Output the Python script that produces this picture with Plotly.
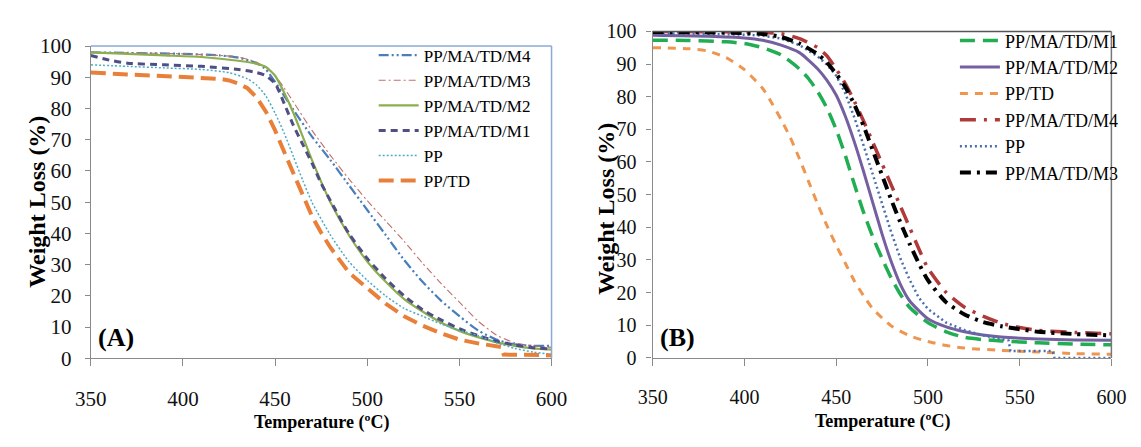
import plotly.graph_objects as go

# ---------------- Panel (A) ----------------
a_m4_t = [350, 370, 400, 420, 430, 440, 445, 450, 455, 460, 470, 480, 490, 500, 510, 520, 530, 540, 550, 560, 570, 580, 590, 600]
a_m4_w = [98, 97.8, 97.5, 97, 96.3, 94.5, 92.5, 88.5, 84, 79.5, 71, 63.5, 55.5, 47.5, 39.5, 31.5, 24.5, 18.5, 13.5, 9, 6, 4.5, 4, 4]

a_m3_t = [350, 400, 430, 440, 445, 450, 455, 460, 470, 480, 490, 500, 510, 520, 530, 540, 550, 560, 570, 580, 590, 600]
a_m3_w = [98, 97.5, 96.5, 94.8, 93, 90.5, 86.5, 82, 73, 65, 57.5, 50.5, 44, 37.5, 30.5, 24, 18, 12, 7.5, 5, 4, 3.5]

a_m2_t = [350, 370, 390, 410, 430, 440, 445, 450, 455, 460, 465, 470, 475, 480, 490, 500, 510, 520, 530, 540, 550, 560, 570, 580, 590, 600]
a_m2_w = [98, 97.5, 97, 96.5, 95.3, 94.3, 93.3, 90.5, 85, 78.5, 71, 63.5, 56.5, 50, 39.5, 31, 24.5, 19, 15, 11.5, 8.8, 6.8, 5.2, 4, 3.2, 2.8]

a_m1_t = [350, 360, 370, 390, 410, 430, 440, 445, 450, 455, 460, 465, 470, 475, 480, 490, 500, 510, 520, 530, 540, 550, 560, 570, 580, 590, 600]
a_m1_w = [97, 95.5, 94.5, 94, 93.5, 92.5, 91.5, 90.5, 88, 81.5, 74.5, 68.5, 62.5, 56, 50.5, 40, 32, 25.5, 20, 15.6, 12.3, 9.5, 7.3, 5.5, 4.3, 3.4, 3]

a_pp_t = [350, 370, 390, 410, 425, 435, 440, 445, 450, 455, 460, 465, 470, 480, 490, 500, 510, 520, 530, 540, 550, 560, 570, 580, 590, 600]
a_pp_w = [94, 93.5, 93, 92.5, 91.5, 89.5, 87.5, 84, 78.5, 72, 64.5, 57, 50, 39.5, 31, 25, 20, 16, 13.5, 11, 9, 7.3, 5, 3.2, 2, 1.3]

a_td_t = [350, 370, 390, 410, 420, 425, 430, 435, 440, 445, 450, 455, 460, 465, 470, 475, 480, 490, 500, 510, 520, 530, 540, 550, 560, 570, 573, 574, 590, 600]
a_td_w = [91.5, 91, 90.5, 90, 89.5, 89, 88, 86.5, 83.5, 79, 73, 66, 59, 52, 45.5, 40.2, 35.5, 27.5, 22.5, 17.5, 13.5, 10.5, 8, 6, 4.8, 3.9, 3.6, 1.2, 1, 1]

# ---------------- Panel (B) ----------------
b_m1_t = [350, 370, 390, 400, 410, 420, 430, 435, 440, 445, 450, 455, 460, 465, 470, 475, 480, 485, 490, 500, 510, 520, 530, 540, 560, 580, 600]
b_m1_w = [97.3, 97.2, 96.8, 96.3, 95, 92.8, 88.5, 85.5, 81.5, 76.5, 70, 62, 53, 44.5, 37, 30.5, 24.5, 19.5, 15.5, 10.8, 8, 6.3, 5.6, 5.2, 4.6, 4.2, 4]

b_m2_t = [350, 380, 400, 410, 420, 430, 440, 445, 450, 455, 460, 465, 470, 475, 480, 485, 490, 500, 510, 520, 530, 540, 560, 580, 600]
b_m2_w = [98.8, 98.5, 98, 97.3, 95.8, 93.5, 88.5, 85, 80.5, 74, 66, 57, 47.5, 38, 29.5, 22.5, 17.5, 12, 9.5, 8, 7, 6.4, 5.8, 5.5, 5.4]

b_td_t = [350, 370, 380, 390, 400, 410, 415, 420, 425, 430, 435, 440, 445, 450, 455, 460, 465, 470, 480, 490, 500, 510, 520, 540, 560, 580, 600]
b_td_w = [95, 94.7, 94, 92, 88.3, 82.5, 78, 73, 67.5, 61, 54, 47, 40.5, 34.5, 29, 23.5, 19, 15, 9.8, 6.8, 5, 3.8, 3, 2.3, 1.8, 1.3, 1.1]

b_m4_t = [350, 400, 420, 430, 440, 445, 450, 455, 460, 465, 470, 475, 480, 485, 490, 495, 500, 510, 520, 530, 540, 550, 560, 580, 600]
b_m4_w = [100, 99.8, 99.3, 97.8, 95, 92.5, 88.5, 84, 78.5, 72.5, 66, 59.5, 53, 46.5, 40, 33.5, 27.5, 20, 15.5, 12.8, 10.6, 9.3, 8.4, 7.8, 7.4]

b_pp_t = [350, 380, 400, 410, 420, 430, 440, 445, 450, 455, 460, 465, 470, 475, 480, 485, 490, 495, 500, 510, 520, 530, 540, 544, 545, 568, 569, 600]
b_pp_w = [99.5, 99.3, 99, 98.7, 97.8, 95.8, 92.3, 89.8, 86.5, 81, 73.5, 65, 56, 47, 38.5, 30.5, 24, 18.5, 15, 10.8, 8.5, 6.9, 5.7, 5.3, 2.1, 2.1, 0, 0]

b_m3_t = [350, 380, 400, 410, 420, 430, 440, 445, 450, 455, 460, 465, 470, 475, 480, 485, 490, 495, 500, 510, 520, 530, 540, 550, 560, 580, 600]
b_m3_w = [99.8, 99.7, 99.5, 99.2, 98.3, 96.3, 93, 90.5, 87, 83, 77.5, 71, 63.5, 56, 48.5, 41.5, 35, 29, 23.8, 17, 13.3, 11, 9.7, 8.8, 8, 7.3, 6.9]

x_ticks = [350, 400, 450, 500, 550, 600]
y_ticks = [0, 10, 20, 30, 40, 50, 60, 70, 80, 90, 100]

SERIF = "Liberation Serif"

fig = go.Figure()

panel_a = [
    ("PP/MA/TD/M4", a_m4_t, a_m4_w, "#4A7EBB", 2.2, "10px,3px,2px,3px,2px,3px", "spline"),
    ("PP/MA/TD/M3", a_m3_t, a_m3_w, "#C0706D", 1.1, "7px,3px,2px,3px", "spline"),
    ("PP/MA/TD/M2", a_m2_t, a_m2_w, "#8CAE4E", 2.2, "solid", "spline"),
    ("PP/MA/TD/M1", a_m1_t, a_m1_w, "#4F4F86", 3, "7px,5px", "spline"),
    ("PP", a_pp_t, a_pp_w, "#4BACC6", 1.5, "2px,2px", "spline"),
    ("PP/TD", a_td_t, a_td_w, "#E8803A", 4, "15px,7px", "linear"),
]
for name, t, w, color, width, dash, shape in panel_a:
    fig.add_trace(go.Scatter(x=t, y=w, mode="lines", name=name, xaxis="x", yaxis="y",
                             legend="legend",
                             line=dict(color=color, width=width, dash=dash, shape=shape,
                                       smoothing=0.6)))

panel_b = [
    ("PP/MA/TD/M1", b_m1_t, b_m1_w, "#21AD52", 3.5, "15px,8px", "spline"),
    ("PP/MA/TD/M2", b_m2_t, b_m2_w, "#7460A0", 3, "solid", "spline"),
    ("PP/TD", b_td_t, b_td_w, "#EE9650", 3, "8px,7px", "spline"),
    ("PP/MA/TD/M4", b_m4_t, b_m4_w, "#B03A3A", 3.5, "16px,8px,3px,8px", "spline"),
    ("PP", b_pp_t, b_pp_w, "#4A6FB0", 2.5, "2px,3px", "linear"),
    ("PP/MA/TD/M3", b_m3_t, b_m3_w, "#000000", 4, "11px,6px,3px,6px", "spline"),
]
for name, t, w, color, width, dash, shape in panel_b:
    fig.add_trace(go.Scatter(x=t, y=w, mode="lines", name=name, xaxis="x2", yaxis="y2",
                             legend="legend2",
                             line=dict(color=color, width=width, dash=dash, shape=shape,
                                       smoothing=0.6)))

W_PX, H_PX = 1141, 447


def px_x(p):
    return p / W_PX


def px_y(p):
    return 1 - p / H_PX


def axis_style(size):
    return dict(showgrid=False, zeroline=False, showline=True, ticks="outside",
                tickcolor="#8a8a8a", linecolor="#8a8a8a", linewidth=1.3,
                tickfont=dict(family=SERIF, size=size, color="#111111"))


fig.update_layout(
    width=W_PX, height=H_PX,
    margin=dict(l=0, r=0, t=0, b=0),
    paper_bgcolor="white", plot_bgcolor="white",
    font=dict(family=SERIF),
    showlegend=True,
    xaxis=dict(domain=[px_x(77), px_x(551)], range=[350, 600], tickvals=x_ticks,
               ticklen=7, ticklabelstandoff=14, anchor="y", **axis_style(21)),
    yaxis=dict(domain=[px_y(366), px_y(36)], range=[0, 100], tickvals=y_ticks,
               ticklen=5, ticklabelstandoff=9, anchor="x", **axis_style(21)),
    xaxis2=dict(domain=[px_x(655), px_x(1127)], range=[350, 600], tickvals=x_ticks,
                ticklen=7, ticklabelstandoff=14, anchor="y2", **axis_style(20)),
    yaxis2=dict(domain=[px_y(365.5), px_y(20.5)], range=[0, 100], tickvals=y_ticks,
                ticklen=5, ticklabelstandoff=6, anchor="x2", **axis_style(20)),
    legend=dict(x=px_x(368), y=px_y(27), xanchor="left", yanchor="top",
                bgcolor="rgba(0,0,0,0)", itemwidth=40, tracegroupgap=0,
                font=dict(family=SERIF, size=17, color="#000000")),
    legend2=dict(x=px_x(966), y=px_y(11), xanchor="left", yanchor="top",
                 bgcolor="rgba(0,0,0,0)", itemwidth=40, tracegroupgap=0,
                 font=dict(family=SERIF, size=18, color="#000000")),
)

# Frame lines on the open sides of each panel
fig.add_shape(type="line", xref="x domain", yref="y domain", x0=0, x1=1, y0=1, y1=1,
              line=dict(color="#8BA9D6", width=1.5))
fig.add_shape(type="line", xref="x domain", yref="y domain", x0=1, x1=1, y0=0, y1=1,
              line=dict(color="#8BA9D6", width=1.5))
fig.add_shape(type="line", xref="x2 domain", yref="y2 domain", x0=0, x1=1, y0=1, y1=1,
              line=dict(color="#555555", width=1.5))
fig.add_shape(type="line", xref="x2 domain", yref="y2 domain", x0=1, x1=1, y0=0, y1=1,
              line=dict(color="#777777", width=1.5))

title_font = dict(family=SERIF, size=18, color="#000000")
ytitle_font = dict(family=SERIF, size=24, color="#000000")
annots = [
    dict(text="<b>Weight Loss (%)</b>", x=px_x(22), y=px_y(200), textangle=-90, font=ytitle_font),
    dict(text="<b>Weight Loss (%)</b>", x=px_x(607), y=px_y(208), textangle=-90, font=ytitle_font),
    dict(text="<b>Temperature (ºC)</b>", x=px_x(314), y=px_y(434), font=title_font),
    dict(text="<b>Temperature (ºC)</b>", x=px_x(891), y=px_y(433), font=title_font),
    dict(text="<b>(A)</b>", x=px_x(103), y=px_y(344), font=dict(family=SERIF, size=26, color="#000000")),
    dict(text="<b>(B)</b>", x=px_x(681), y=px_y(344), font=dict(family=SERIF, size=26, color="#000000")),
]
for a in annots:
    fig.add_annotation(xref="paper", yref="paper", xanchor="center", yanchor="middle",
                       showarrow=False, **a)

fig.write_html("out.html")
